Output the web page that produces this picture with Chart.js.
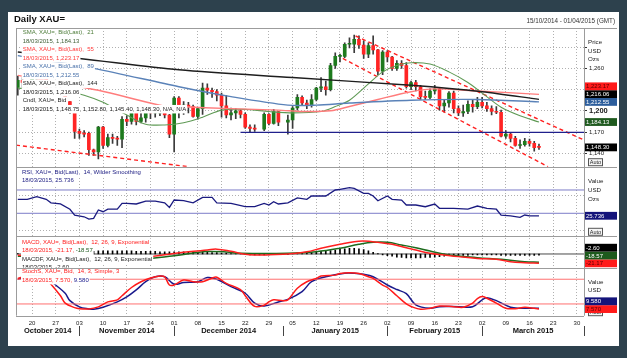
<!DOCTYPE html>
<html>
<head>
<meta charset="utf-8">
<title>Daily XAU=</title>
<script src="https://cdn.jsdelivr.net/npm/chart.js@4.4.1/dist/chart.umd.min.js"></script>
<style>
  html, body { margin: 0; padding: 0; background: #2d414d; }
  canvas { display: block; }
</style>
</head>
<body>
<canvas id="xauChart" width="627" height="358"></canvas>
<script>
// x = trading-day index, 0 = 15/10/2014 (weekdays only, null = holiday)
const opens = [1233,1243,1240,1238,1245,1251,1245,1230,1231,1228,
  1229,1213,1199,1171,1168,1168,1145,1142,1177,1151,
  1162,1161,1160,1188,1185,1197,1185,1190,1199,1197,
  1197,1198,1194,1167,1218,1199,1208,1206,1192,1203,
  1232,1229,1227,1222,1207,1194,1197,1200,1195,1177,
  1175,null,1174,1195,1182,1199,null,1184,1187,1204,
  1219,1211,1208,1216,1232,1234,1230,1264,1277,1277,
  1294,1294,1301,1293,1280,1292,1286,1256,1283,1276,
  1260,1267,1264,1234,1240,1234,1220,1219,1228,1231,
  1207,1211,1225,1203,1197,1199,1209,1206,1212,1207,
  1203,1199,1198,1164,1167,1161,1151,1152,1157,1154,
  1148.75];
const highs = [1249,1247,1242,1250,1255,1255,1246,1235,1237,1233,
  1230,1213,1199,1174,1172,1170,1146,1178,1178,1167,
  1167,1164,1192,1193,1200,1199,1200,1207,1204,1203,
  1202,1200,1195,1220,1220,1213,1212,1208,1205,1239,
  1238,1232,1230,1225,1222,1204,1203,1202,1197,1180,
  1180,null,1197,1196,1202,1199,null,1194,1206,1223,
  1221,1215,1223,1233,1247,1242,1267,1282,1280,1296,
  1303,1307,1306,1299,1296,1306,1287,1285,1285,1277,
  1271,1271,1268,1242,1243,1236,1228,1231,1236,1232,
  1215,1227,1228,1207,1208,1214,1216,1219,1219,1212,
  1207,1206,1201,1172,1169,1164,1159,1161,1160,1157,
  1152.8];
const lows = [1222,1233,1230,1234,1242,1241,1227,1227,1225,1223,
  1212,1196,1161,1161,1163,1137,1137,1132,1147,1149,
  1154,1151,1148,1179,1181,1180,1183,1184,1189,1191,
  1193,1190,1162,1142,1190,1195,1197,1191,1188,1195,
  1223,1219,1214,1191,1190,1187,1189,1190,1175,1170,
  1171,null,1172,1180,1181,1179,null,1167,1175,1201,
  1208,1203,1205,1214,1227,1222,1228,1260,1269,1275,
  1289,1282,1288,1274,1275,1280,1251,1251,1269,1257,
  1257,1260,1232,1230,1228,1216,1216,1217,1224,1201,
  1198,1205,1197,1193,1192,1196,1198,1203,1204,1199,
  1194,1196,1163,1161,1156,1150,1147,1150,1150,1143,
  1145.4];
const closes = [1243,1240,1238,1245,1251,1245,1230,1231,1228,1229,
  1213,1199,1171,1168,1167,1145,1142,1177,1151,1162,
  1161,1160,1188,1185,1197,1185,1190,1199,1197,1197,
  1198,1194,1167,1218,1199,1208,1206,1192,1203,1232,
  1229,1227,1222,1207,1194,1197,1200,1195,1177,1175,
  1174,null,1195,1182,1199,1184,null,1187,1204,1219,
  1211,1208,1216,1232,1234,1230,1264,1277,1277,1294,
  1294,1301,1293,1280,1292,1286,1256,1283,1276,1260,
  1267,1264,1234,1240,1234,1220,1219,1228,1231,1207,
  1211,1225,1203,1197,1199,1209,1206,1212,1207,1203,
  1199,1198,1164,1167,1161,1151,1152,1157,1154,1148,
  1148.3];

// moving averages
const sma21Idx = [0,10,14,18,23,27,31,35,39,43,48,53,58,64,67,70,74,77,80,83,87,91,95,98,102,106,110];
const sma21Val = [1232,1228,1222,1212,1194,1181,1180,1183,1191,1201,1202,1199,1197,1199,1206,1215,1238,1255,1264,1268,1266,1255,1240,1225,1205,1193,1184.13];
const sma55Idx = [0,17,30,34,45,55,60,66,70,76,83,88,97,110];
const sma55Val = [1250,1229,1208,1206,1203,1201,1199,1200,1206,1216,1227,1231,1228,1223.17];
const sma89Idx = [0,16,34,45,57,63,70,83,97,110];
const sma89Val = [1278,1260,1234,1220,1208,1208,1211,1215,1216,1212.55];
const sma144Idx = [0,13,34,58,83,98,110];
const sma144Val = [1283,1274,1258,1247,1236,1227,1216.06];

// drawn lines: support and channel
const supportLevel = 1169.5;
const supportFrom = 47;
const trendLow1 = [[-0.38, 1151.5], [36, 1121]];
const trendUpper = [[71.3, 1305.7], [119.5, 1158.7]];
const trendLower = [[68.6, 1274], [111.9, 1121]];

// RSI 14
const rsiIdx = [0,2,4,6,7,9,11,12,14,15,16,17,18,19,21,22,23,25,27,29,31,32,33,35,37,39,41,42,45,48,50,52,53,54,55,57,59,61,62,65,67,68,70,71,73,74,75,76,78,79,81,82,84,86,88,89,92,95,97,99,101,102,104,106,107,108,110];
const rsiVal = [54,54,58.5,54,48,46,37,27,24,20,21.4,35.7,32.7,37,37,47,47,46,51,51,48,40,52.8,51.6,48,57.4,57.4,48,47,41.3,41.3,47,44,50,46,48,56.5,54,59.7,59.7,70,71.2,73.9,72.9,64.3,64.3,59.7,51.6,59.7,54,52.8,44.2,44.2,41.3,45.8,38.6,38.6,37,42.5,38.6,37,27,25.4,23,27,25.4,25.736];
const rsiLevels = [30, 70];

// MACD 12,26,9
const macdIdx = [0,5,10,14,17,20,24,28,31,33,36,40,42,45,48,50,53,56,58,61,64,68,71,73,76,79,82,84,87,90,93,97,101,104,107,110];
const macdVal = [-3,-4,-8,-15,-18,-16,-11,-6,-2,1,5,9,11,6,-0.7,-2.3,-2,-0.7,1,5,13,22,28,29.5,26.6,22,14.3,9,1.6,-2.3,-6,-10,-12,-17.5,-19.8,-21.17];
const signalIdx = [0,10,17,24,28,33,37,40,44,47,57,63,68,72,75,78,81,84,87,91,97,102,107,110];
const signalVal = [-5,-6,-12,-12,-10,-4,2,5.5,4.5,1.6,1.6,5.2,13,22,26.6,26.6,20.5,14.3,6.8,-2.3,-8.4,-12,-17.5,-18.57];
const macdHist = [1,1,1,1,1,1,1,1,1,1,1,1,1,2,3,
  5,6,7,7,7,7,7,7,7,7,6,6,6,6,
  6,5,5,5,5,5,5,4,4,4,4,4,
  3,3,2,2,1,1,0,
  -1,-2,-2,-2,-2,-2,-1,-1,-1,-1,
  1,2,3,3,4,
  5,6,7,8,9,
  11,12,13,13,12,10,
  7,4,1,
  -2,-4,-5,-7,-8,-9,-9,-9,
  -9,-8,-8,-7,-6,-5,-4,-4,
  -3,-3,-3,-2,-2,-2,-2,-2,-2,-3,-3,-3,-3,-3,-3,-3,-3,-2.6];

// Slow stochastic 14,3,3
const stochKIdx = [0,2,4,5,6,7,9,10,12,13,15,17,19,21,22,24,26,28,30,31,32,33,35,37,39,41,42,44,47,48,50,52,53,54,56,57,59,61,63,64,67,68,70,72,74,75,77,78,80,82,83,85,87,89,92,94,96,97,98,99,101,103,105,107,109,110];
const stochKVal = [82,88,90,85,78,68,40,22,11,8.5,8,13,25,30,40,60,74,83,88,86,66,66,78,74,74,83,85,70,55,40,14,17,25,30,28,30,58,74,82,88,90,94,96,94,86,82,66,60,40,20,14,7,9.5,15,13.4,12,22,33,38,34,22,9.5,8.5,12,9.5,7.57];
const stochDIdx = [0,2,4,6,7,8,10,11,13,15,16,18,21,23,25,27,29,31,33,35,38,40,42,45,48,50,52,55,57,60,62,65,69,71,73,75,78,80,82,84,87,89,93,96,98,99,101,104,106,108,110];
const stochDVal = [80,85,88,84,76,66,46,28,13,8,7,12,25,37,54,74,86,86,68,72,74,84,80,62,46,22,15,25,31,50,74,86,94.5,94.5,92,86,66,55,45,18,9.5,13.4,13.4,13.4,30,35,28,12,9.5,9.5,9.58];
const stochLevels = [20, 80];

// axis labels
const tickIdx = [3,8,13,18,23,28,33,38,43,48,53,58,63,68,73,78,83,88,93,98,103,108,113,118];
const tickLabels = ['20','27','03','10','17','24','01','08','15','22','29','05','12','19','26','02','09','16','23','02','09','16','23','30'];
const monthNames = ['October 2014','November 2014','December 2014','January 2015','February 2015','March 2015'];
const monthStarts = [13, 33, 56, 78, 98];
const priceGrid = [1140, 1170, 1200, 1230, 1260, 1290];
const priceShown = [1140, 1170, 1200, 1260];

const X_MIN = -0.38, X_MAX = 119.5;
const FONT = '"Liberation Sans", Arial, sans-serif';

function pts(xs, ys) { return xs.map((x, i) => ({ x: x, y: ys[i] })); }
function seg(p) { return p.map(q => ({ x: q[0], y: q[1] })); }
function last(a) { return a[a.length - 1]; }
function fmt(v, d) {
  return v.toLocaleString('en-US', { minimumFractionDigits: d, maximumFractionDigits: d });
}

function lineSet(data, axis, color, width, extra) {
  return Object.assign({
    type: 'line', data: data, yAxisID: axis, borderColor: color, borderWidth: width,
    pointRadius: 0, fill: false, tension: 0, order: 5
  }, extra || {});
}

// candles: wick + body as floating bars
const candleIdx = [];
opens.forEach((o, i) => { if (o !== null) candleIdx.push(i); });
const wickData = candleIdx.map(i => ({ x: i, y: [lows[i], highs[i]] }));
const bodyData = candleIdx.map(i => ({ x: i, y: [opens[i], closes[i]] }));
const isUp = c => c.raw && c.raw.y[1] >= c.raw.y[0];

const datasets = [
  { type: 'bar', data: bodyData, yAxisID: 'yP', barThickness: 3, minBarLength: 1, grouped: false,
    backgroundColor: c => isUp(c) ? '#1d7a1d' : '#ff2424', borderWidth: 0, order: 9 },
  { type: 'bar', data: wickData, yAxisID: 'yP', barThickness: 1, grouped: false,
    backgroundColor: '#3a3a3a', order: 10 },
  lineSet(pts(sma144Idx, sma144Val), 'yP', '#1e1e1e', 1.4, { tension: 0.3 }),
  lineSet(pts(sma89Idx, sma89Val), 'yP', '#5a82b8', 1.4, { tension: 0.3 }),
  lineSet(pts(sma55Idx, sma55Val), 'yP', '#ff7c7c', 1.4, { tension: 0.3 }),
  lineSet(pts(sma21Idx, sma21Val), 'yP', '#5f9a55', 1.1, { tension: 0.3 }),
  lineSet([{ x: supportFrom, y: supportLevel }, { x: X_MAX, y: supportLevel }], 'yP', '#20208c', 1.4),
  lineSet(seg(trendLow1), 'yP', '#ff2020', 1.4, { borderDash: [4, 3] }),
  lineSet(seg(trendUpper), 'yP', '#ff2020', 1.4, { borderDash: [4, 3] }),
  lineSet(seg(trendLower), 'yP', '#ff2020', 1.4, { borderDash: [4, 3] }),

  lineSet(rsiLevels.map(v => ({ x: X_MIN, y: v })).slice(0, 1).concat([{ x: X_MAX, y: rsiLevels[0] }]), 'yR', '#7c7cc8', 1),
  lineSet([{ x: X_MIN, y: rsiLevels[1] }, { x: X_MAX, y: rsiLevels[1] }], 'yR', '#7c7cc8', 1),
  lineSet(pts(rsiIdx, rsiVal), 'yR', '#1a1a80', 1.3, { order: 4 }),

  lineSet([{ x: X_MIN, y: 0 }, { x: X_MAX, y: 0 }], 'yM', '#4a4a4a', 1, { order: 8 }),
  { type: 'bar', data: macdHist.map((v, i) => ({ x: i, y: v })), yAxisID: 'yM', barThickness: 1,
    grouped: false, backgroundColor: '#000', order: 7 },
  lineSet(pts(signalIdx, signalVal), 'yM', '#1d6b1d', 1.5, { tension: 0.4 }),
  lineSet(pts(macdIdx, macdVal), 'yM', '#ff2020', 1.5, { tension: 0.4, order: 4 }),

  lineSet([{ x: X_MIN, y: stochLevels[0] }, { x: X_MAX, y: stochLevels[0] }], 'yS', '#ff7070', 1),
  lineSet([{ x: X_MIN, y: stochLevels[1] }, { x: X_MAX, y: stochLevels[1] }], 'yS', '#ff7070', 1),
  lineSet(pts(stochDIdx, stochDVal), 'yS', '#1a1a8c', 1.5, { tension: 0.35 }),
  lineSet(pts(stochKIdx, stochKVal), 'yS', '#ff1a1a', 1.5, { tension: 0.35, order: 4 })
];

// text blocks in the top-left of each panel
const panelText = {
  yP: { x: 22.7, dy: 4.7, rows: [
    [['SMA, XAU=, Bid(Last),  21', '#4e7d3a']],
    [['18/03/2015, ' + fmt(last(sma21Val), 2), '#3f5f35']],
    [['SMA, XAU=, Bid(Last),  55', '#ff3b3b']],
    [['18/03/2015, ' + fmt(last(sma55Val), 2), '#ff3b3b']],
    [['SMA, XAU=, Bid(Last),  89', '#4a72aa']],
    [['18/03/2015, ' + fmt(last(sma89Val), 2), '#4a72aa']],
    [['SMA, XAU=, Bid(Last),  144', '#222']],
    [['18/03/2015, ' + fmt(last(sma144Val), 2), '#222']],
    [['Cndl, XAU=, Bid', '#222']],
    [['18/03/2015, ' + [last(opens), last(highs), last(lows), last(closes)].map(v => fmt(v, 2)).join(', ') + ', N/A, N/A', '#222']]
  ]},
  yR: { x: 22, dy: 5.6, rows: [
    [['RSI, XAU=, Bid(Last),  14, Wilder Smoothing', '#1a1a80']],
    [['18/03/2015, ' + fmt(last(rsiVal), 3), '#1a1a80']]
  ]},
  yM: { x: 22, dy: 6, rows: [
    [['MACD, XAU=, Bid(Last),  12, 26, 9, Exponential', '#ff2020']],
    [['18/03/2015, ' + fmt(last(macdVal), 2) + ', ', '#ff2020'], [fmt(last(signalVal), 2), '#1d5a1d']],
    [['MACDF, XAU=, Bid(Last),  12, 26, 9, Exponential', '#222']],
    [['18/03/2015, ' + fmt(last(macdHist), 2), '#222']]
  ]},
  yS: { x: 22, dy: 3.9, rows: [
    [['StochS, XAU=, Bid,  14, 3, Simple, 3', '#ff2020']],
    [['18/03/2015, ' + fmt(last(stochKVal), 3) + ', ', '#ff2020'], [fmt(last(stochDVal), 3), '#1a1a8c']]
  ]}
};

const sideText = {
  yP: { dy: 14, rows: ['Price', 'USD', 'Ozs'] },
  yR: { dy: 15, rows: ['Value', 'USD', 'Ozs'] },
  yS: { dy: 14, rows: ['Value', 'USD'] }
};

const tags = {
  yP: [
    { v: last(sma55Val), d: 2, bg: '#ff1a1a', fg: '#5a0000' },
    { v: last(sma144Val), d: 2, bg: '#000', fg: '#fff' },
    { v: last(sma89Val), d: 2, bg: '#2c5d9c', fg: '#fff' },
    { v: last(sma21Val), d: 2, bg: '#1f5a1f', fg: '#fff' },
    { v: last(closes), d: 2, bg: '#000', fg: '#fff' }
  ],
  yR: [{ v: last(rsiVal), d: 3, bg: '#14147a', fg: '#fff' }],
  yM: [
    { v: last(macdHist), d: 2, bg: '#000', fg: '#fff' },
    { v: last(signalVal), d: 2, bg: '#1d5a1d', fg: '#fff' },
    { v: last(macdVal), d: 2, bg: '#ff1a1a', fg: '#5a0000' }
  ],
  yS: [
    { v: last(stochDVal), d: 3, bg: '#14147a', fg: '#fff' },
    { v: last(stochKVal), d: 3, bg: '#ff1a1a', fg: '#5a0000' }
  ]
};

function drawAuto(c, x, y) {
  c.fillStyle = '#f6f6f6';
  c.fillRect(x, y - 3.5, 15, 7);
  c.strokeStyle = '#555';
  c.lineWidth = 1;
  c.strokeRect(x + 0.5, y - 3.5, 14, 7);
  c.fillStyle = '#222';
  c.font = '5.5px ' + FONT;
  c.textAlign = 'center';
  c.fillText('Auto', x + 7.5, y + 0.3);
  c.textAlign = 'left';
}

function drawTags(c, scale, list) {
  const h = 7.8;
  const placed = list.map(t => Object.assign({ y: scale.getPixelForValue(t.v) }, t))
    .sort((a, b) => b.y - a.y);
  let limit = scale.bottom - h / 2;
  c.font = '6px ' + FONT;
  placed.forEach(t => {
    t.y = Math.min(t.y, limit);
    limit = t.y - h;
    c.fillStyle = t.bg;
    c.fillRect(585, t.y - h / 2, 32, h);
    c.fillStyle = t.fg;
    c.fillText(fmt(t.v, t.d), 586, t.y + 0.4);
  });
}

const panelPlugin = {
  id: 'panels',
  beforeDraw(chart) {
    const c = chart.ctx;
    c.save();
    c.fillStyle = '#2d414d';
    c.fillRect(0, 0, chart.width, chart.height);
    c.fillStyle = '#fff';
    c.fillRect(8, 12, 611, 334);
    c.restore();
  },
  afterDraw(chart) {
    const c = chart.ctx;
    const area = chart.chartArea;
    const s = chart.scales;
    c.save();
    c.textBaseline = 'middle';

    // legend blocks with white backing
    Object.keys(panelText).forEach(id => {
      const p = panelText[id];
      const sc = s[id];
      c.save();
      c.beginPath();
      c.rect(area.left, sc.top, area.right - area.left, sc.bottom - sc.top);
      c.clip();
      c.font = '6px ' + FONT;
      p.rows.forEach((row, i) => {
        const y = sc.top + p.dy + i * 8.5;
        const w = row.reduce((sum, part) => sum + c.measureText(part[0]).width, 0);
        c.fillStyle = '#fff';
        c.fillRect(p.x - 1, y - 4.25, w + 2, 8.5);
        let x = p.x;
        row.forEach(part => {
          c.fillStyle = part[1];
          c.fillText(part[0], x, y);
          x += c.measureText(part[0]).width;
        });
      });
      c.restore();
    });

    // panel frames
    c.strokeStyle = '#9c9c9c';
    c.lineWidth = 1;
    ['yP', 'yR', 'yM', 'yS'].forEach(id => {
      const y = Math.round(s[id].top) + 0.5;
      c.beginPath(); c.moveTo(area.left, y); c.lineTo(617, y); c.stroke();
    });
    const yb = Math.round(area.bottom) + 0.5;
    c.beginPath(); c.moveTo(area.left, yb); c.lineTo(area.right, yb); c.stroke();
    c.beginPath();
    c.moveTo(Math.round(area.left) + 0.5, area.top); c.lineTo(Math.round(area.left) + 0.5, area.bottom);
    c.moveTo(Math.round(area.right) + 0.5, area.top); c.lineTo(Math.round(area.right) + 0.5, area.bottom);
    c.stroke();

    // unit captions on the right
    c.font = '6.2px ' + FONT;
    c.fillStyle = '#222';
    Object.keys(sideText).forEach(id => {
      sideText[id].rows.forEach((t, i) => c.fillText(t, 588, s[id].top + sideText[id].dy + i * 8.8));
    });

    drawAuto(c, 588, s.yP.bottom - 4.5);
    drawAuto(c, 588, s.yR.bottom - 4.5);
    drawAuto(c, 588, s.yS.bottom - 3.5);
    Object.keys(tags).forEach(id => drawTags(c, s[id], tags[id]));

    // title and range
    c.fillStyle = '#111';
    c.font = 'bold 9.5px ' + FONT;
    c.fillText('Daily XAU=', 14, 19.5);
    c.font = '6.3px ' + FONT;
    c.textAlign = 'right';
    c.fillStyle = '#333';
    c.fillText('15/10/2014 - 01/04/2015 (GMT)', 615, 21.7);

    // month row
    const xs = s.x;
    const bounds = [X_MIN].concat(monthStarts, [X_MAX]).map(v => xs.getPixelForValue(v));
    c.textAlign = 'center';
    c.font = 'bold 7.5px ' + FONT;
    c.fillStyle = '#111';
    monthNames.forEach((m, i) => c.fillText(m, (bounds[i] + bounds[i + 1]) / 2, 331));
    c.strokeStyle = '#444';
    bounds.slice(1).forEach(x => {
      const px = Math.round(x) + 0.5;
      c.beginPath(); c.moveTo(px, 326); c.lineTo(px, 336); c.stroke();
    });
    c.restore();
  }
};

const gridStyle = { color: '#b0b0b0', lineWidth: 1, drawTicks: false };
const dotted = { display: false, dash: [1, 2] };
const setWidth = sc => { sc.width = 35; };
const fixedTicks = vals => sc => { sc.ticks = vals.map(v => ({ value: v })); };

new Chart(document.getElementById('xauChart'), {
  type: 'bar',
  data: { datasets: datasets },
  options: {
    responsive: false,
    animation: false,
    events: [],
    layout: { padding: { left: 16, top: 28, right: 8, bottom: 12.3 } },
    plugins: { legend: { display: false }, tooltip: { enabled: false } },
    scales: {
      x: {
        type: 'linear', position: 'bottom', min: X_MIN, max: X_MAX, offset: false,
        grid: Object.assign({ offset: false }, gridStyle), border: dotted,
        afterBuildTicks: fixedTicks(tickIdx),
        afterFit: sc => { sc.height = 30; },
        ticks: {
          autoSkip: false, maxRotation: 0, padding: 4, color: '#222',
          font: { family: FONT, size: 6 },
          callback: v => tickLabels[tickIdx.indexOf(v)]
        }
      },
      yP: {
        type: 'linear', position: 'right', stack: 'panels', stackWeight: 138.7,
        min: 1121, max: 1317,
        grid: { color: '#b0b0b0', drawTicks: true, tickLength: 3, tickColor: '#333', tickBorderDash: [] },
        border: dotted, afterBuildTicks: fixedTicks(priceGrid), afterFit: setWidth,
        ticks: {
          padding: 2, color: '#222',
          font: c => c.tick && c.tick.value === 1200 ? { family: FONT, size: 7.5, weight: 'bold' } : { family: FONT, size: 6 },
          callback: v => priceShown.indexOf(v) >= 0 ? fmt(v, 0) : ''
        }
      },
      yR: {
        type: 'linear', position: 'right', stack: 'panels', stackWeight: 69.6,
        min: -9.5, max: 110,
        grid: gridStyle, border: dotted, afterBuildTicks: fixedTicks([0, 60]), afterFit: setWidth,
        ticks: { display: false }
      },
      yM: {
        type: 'linear', position: 'right', stack: 'panels', stackWeight: 31.5,
        min: -31.4, max: 40.2,
        grid: gridStyle, border: dotted, afterBuildTicks: fixedTicks([40]), afterFit: setWidth,
        ticks: { display: false }
      },
      yS: {
        type: 'linear', position: 'right', stack: 'panels', stackWeight: 47.9,
        min: -8.5, max: 107.8,
        grid: gridStyle, border: dotted, afterBuildTicks: fixedTicks([]), afterFit: setWidth,
        ticks: { display: false }
      }
    }
  },
  plugins: [panelPlugin]
});
</script>
</body>
</html>
